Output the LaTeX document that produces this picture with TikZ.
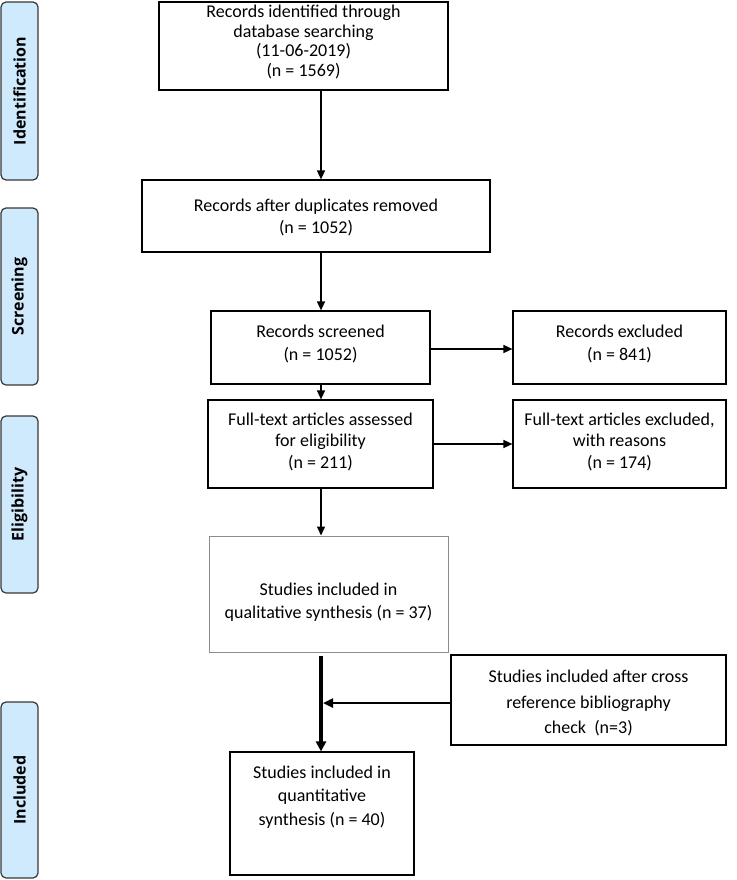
\documentclass[tikz,border=0pt]{standalone}
\usepackage{fontspec}
\setmainfont{Carlito}
\newfontfamily\sidefont{Open Sans}
\usetikzlibrary{arrows.meta,calc}
\definecolor{sideblue}{RGB}{207,233,253}
\definecolor{sideedge}{RGB}{55,55,55}
\definecolor{qgray}{RGB}{140,140,140}
\begin{document}
\begin{tikzpicture}[x=1pt,y=-1pt,
  box/.style={draw=black, line width=1.2pt, inner sep=0pt, align=center,
    font=\fontsize{18}{21.5}\selectfont},
  txt/.style={align=center, inner sep=0pt},
  side/.style={draw=sideedge, fill=sideblue, rounded corners=5pt, line width=1.2pt,
    inner sep=0pt, rotate=90, minimum height=37pt,
    font=\sidefont\fontsize{16}{18}\selectfont\bfseries},
  arr/.style={line width=1.4pt, -{Triangle[length=9pt,width=8pt]}},
  thickarr/.style={line width=3.5pt, -{Triangle[length=10pt,width=10pt]}},
  midarr/.style={line width=2.4pt, -{Triangle[length=10pt,width=9pt]}},
]
\useasboundingbox (0,0) rectangle (736,880);

% side labels
\node[side, minimum width=178pt] (sid) at (19.5,91) {Identification};
\node[side, minimum width=177pt] (ssc) at (19.5,296.5) {Screening};
\node[side, minimum width=177pt] (sel) at (19.5,504.5) {Eligibility};
\node[side, minimum width=176pt] (sin) at (19.5,790) {Included};

% spine
\coordinate (sp) at (321,0);

% boxes
\node[box, minimum width=289pt, minimum height=88pt] (b1) at (303.5,46) {};
\node[txt, font=\fontsize{18}{19.5}\selectfont] (t1) at (303.5,42)
  {Records identified through\\database searching\\(11-06-2019)\\(n = 1569)};
\node[box, minimum width=348pt, minimum height=72pt] (b2) at (316,216) {};
\node[txt, font=\fontsize{18}{22}\selectfont] (t2) at (316,217)
  {Records after duplicates removed\\(n = 1052)};
\node[box, minimum width=219pt, minimum height=73pt] (b3) at (320.5,347.5) {};
\node[txt, font=\fontsize{18}{23}\selectfont] (t3) at (320.5,343.5)
  {Records screened\\(n = 1052)};
\node[box, minimum width=213pt, minimum height=73pt] (e1) at (619.5,347.5) {};
\node[txt, font=\fontsize{18}{23}\selectfont] (te1) at (619.5,343.5)
  {Records excluded\\(n = 841)};
\node[box, minimum width=225pt, minimum height=88pt] (b4) at (320.5,444) {};
\node[txt, font=\fontsize{18}{21.5}\selectfont] (t4) at (320.5,441.5)
  {Full-text articles assessed\\for eligibility\\(n = 211)};
\node[box, minimum width=213pt, minimum height=88pt] (e2) at (619.5,444) {};
\node[txt, font=\fontsize{18}{21.5}\selectfont] (te2) at (619.5,441.5)
  {Full-text articles excluded,\\with reasons\\(n = 174)};
\node[box, draw=qgray, line width=1pt, minimum width=239pt, minimum height=116pt] (b5) at (328.5,594) {};
\node[txt, font=\fontsize{18}{23}\selectfont] (t5) at (328.5,602)
  {Studies included in\\qualitative synthesis (n = 37)};
\node[box, minimum width=275pt, minimum height=90pt] (c1) at (588.5,700) {};
\node[txt, font=\fontsize{18}{25.5}\selectfont] (tc1) at (588.5,703)
  {Studies included after cross\\reference bibliography\\check~~(n=3)};
\node[box, minimum width=184pt, minimum height=123pt] (b6) at (322,813.5) {};
\node[txt, font=\fontsize{18}{23.5}\selectfont] (t6) at (322,797)
  {Studies included in\\quantitative\\synthesis (n = 40)};

% connectors
\draw[arr] (b1.south -| sp) -- (b2.north -| sp);
\draw[arr] (b2.south -| sp) -- (b3.north -| sp);
\draw[arr] (b3.east) ++(0,1.5) coordinate (a1) -- (a1 -| e1.west);
\draw[arr] (b4.east) coordinate (a2) -- (a2 -| e2.west);
\draw[arr] (b3.south -| sp) -- (b4.north -| sp);
\draw[arr] (b4.south -| sp) -- (b5.north -| sp);
\coordinate (tk) at ($(b5.south -| sp)+(0,3)$);
\draw[thickarr] (tk) -- (b6.north -| sp);
\draw[midarr] (c1.west) ++(0,3) coordinate (a3) -- ([xshift=2pt]a3 -| sp);
\end{tikzpicture}
\end{document}
